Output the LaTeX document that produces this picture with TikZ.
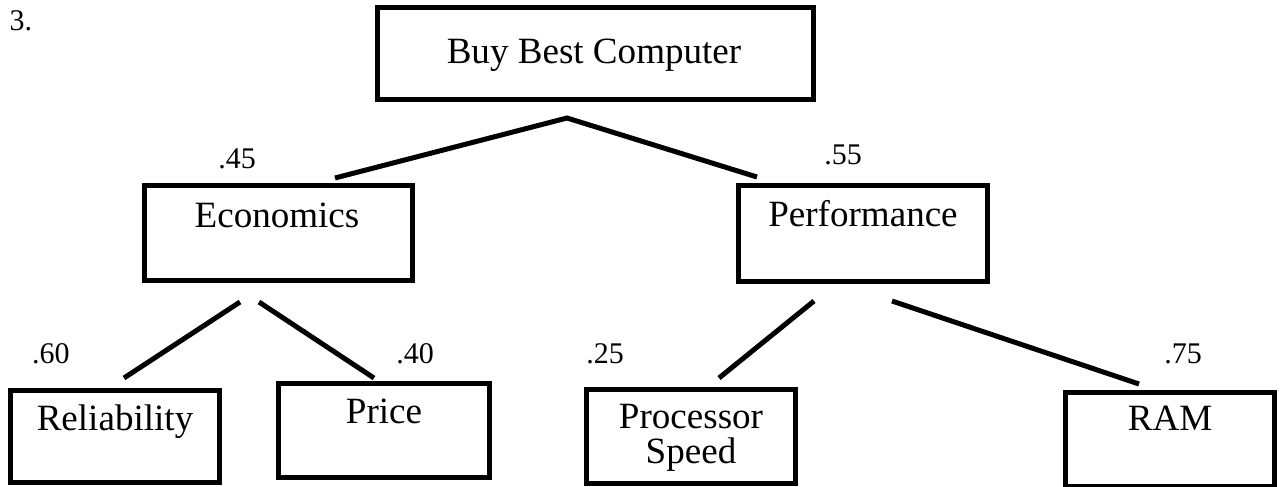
\documentclass[tikz,border=0pt]{standalone}
\usepackage{fontspec}
\setmainfont{Liberation Serif}
\usetikzlibrary{calc}
\def\pxu{0.75pt}
\tikzset{
  box/.style={draw=black, line width=3.75pt, inner sep=0pt, fill=white},
  txt/.style={anchor=base, inner sep=0pt, font=\fontsize{27.8}{33}\selectfont},
  wt/.style={anchor=base, inner sep=0pt, font=\fontsize{22.5}{27}\selectfont},
  link/.style={line width=3.75pt, line cap=butt, line join=miter}
}
\begin{document}
\begin{tikzpicture}[x=0.75pt, y=-0.75pt]
\useasboundingbox (0,0) rectangle (1285,486);
% boxes
\node[box, minimum width={436*\pxu}, minimum height={92*\pxu}] (top) at (595.5,53.5) {};
\node[box, minimum width={268*\pxu}, minimum height={95*\pxu}] (eco) at (278.5,233) {};
\node[box, minimum width={249*\pxu}, minimum height={96*\pxu}] (perf) at (863,233.5) {};
\node[box, minimum width={209*\pxu}, minimum height={92*\pxu}] (rel) at (115,436.5) {};
\node[box, minimum width={211*\pxu}, minimum height={94*\pxu}] (price) at (384,430.5) {};
\node[box, minimum width={209*\pxu}, minimum height={94*\pxu}] (proc) at (691,436.5) {};
\node[box, minimum width={209*\pxu}, minimum height={94*\pxu}] (ram) at (1170,439.5) {};
% texts
\node[txt] (topT) at (594,63) {Buy Best Computer};
\node[txt] (ecoT) at (277,227) {Economics};
\node[txt] (perfT) at (863,226) {Performance};
\node[txt] (relT) at (115,430) {Reliability};
\node[txt] (priceT) at (384,423) {Price};
\node[txt] (procT) at (691,428) {Processor};
\node[txt] (procT2) at (691,463) {Speed};
\node[txt] (ramT) at (1170,430) {RAM};
% weights
\node[wt] (num) at (21,30) {3.};
\node[wt] (w45) at (237,168) {.45};
\node[wt] (w55) at (843,164) {.55};
\node[wt] (w60) at (51,363) {.60};
\node[wt] (w40) at (415,363) {.40};
\node[wt] (w25) at (605,363) {.25};
\node[wt] (w75) at (1183,363) {.75};
% connector ends
\coordinate (apex) at (567,118);
\coordinate (e1) at (335,178);
\coordinate (p1) at (757,177);
\coordinate (es) at (240,302);
\coordinate (es2) at (259,302);
\coordinate (r1) at (124,378);
\coordinate (pr1) at (374,378);
\coordinate (ps) at (814,301);
\coordinate (ps2) at (892,301);
\coordinate (c1) at (719,378);
\coordinate (m1) at (1139,384);
% connectors
\draw[link] (e1) -- (apex) -- (p1);
\draw[link] (es) -- (r1);
\draw[link] (es2) -- (pr1);
\draw[link] (ps) -- (c1);
\draw[link] (ps2) -- (m1);
\end{tikzpicture}
\end{document}
